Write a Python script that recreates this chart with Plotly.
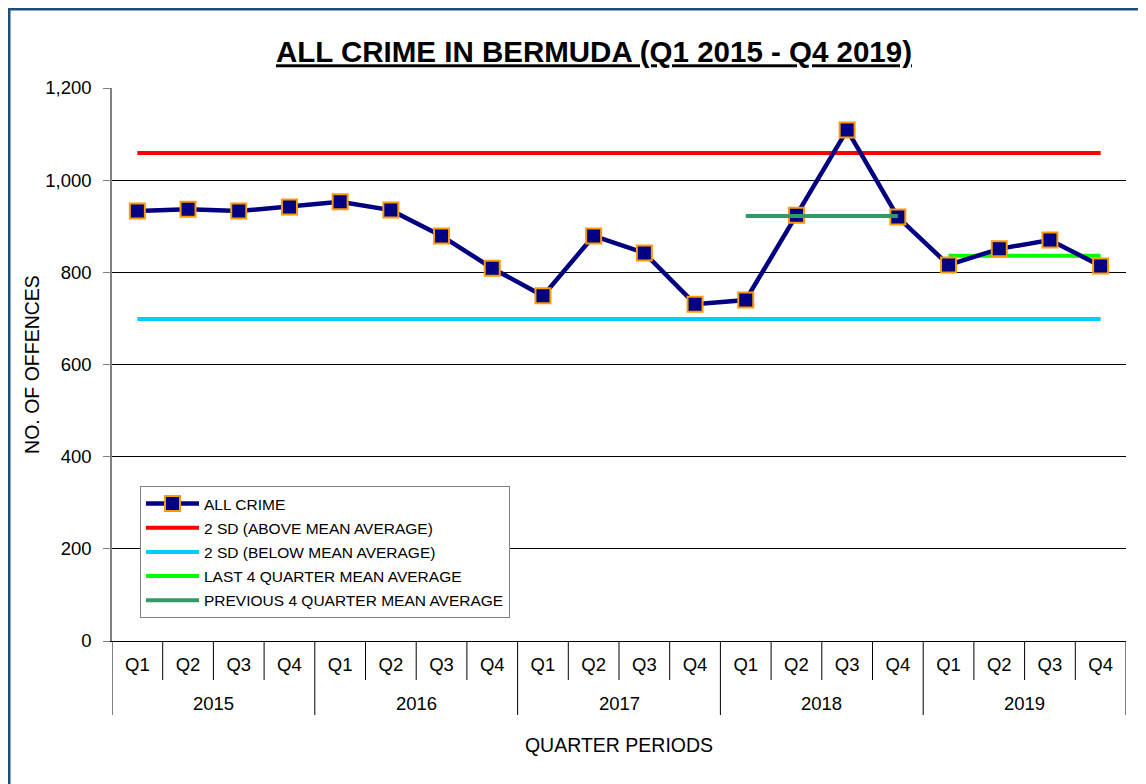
import plotly.graph_objects as go

year_labels = ["2015", "2016", "2017", "2018", "2019"]
quarter_labels = ["Q1", "Q2", "Q3", "Q4"]
quarters = quarter_labels * 5
all_crime = [933, 937, 933, 942, 953, 935, 879, 809, 749, 879, 842, 731,
             740, 924, 1109, 920, 816, 851, 870, 814]
sd_above = 1059
sd_below = 699
last4_mean = 836
prev4_mean = 922
last4_idx = [16, 17, 18, 19]
prev4_idx = [12, 13, 14, 15]
y_ticks = [0, 200, 400, 600, 800, 1000, 1200]

FONT = "Liberation Sans, Arial, sans-serif"
n = len(all_crime)
xi = list(range(n))

fig = go.Figure()
fig.add_trace(go.Scatter(
    x=xi, y=[sd_above] * n, mode="lines",
    line=dict(color="#FF0000", width=4), name="2 SD (ABOVE MEAN AVERAGE)",
    legendgroup="b", legendrank=2))
fig.add_trace(go.Scatter(
    x=xi, y=[sd_below] * n, mode="lines",
    line=dict(color="#00CCFF", width=4), name="2 SD (BELOW MEAN AVERAGE)",
    legendgroup="c", legendrank=3))
fig.add_trace(go.Scatter(
    x=last4_idx, y=[last4_mean] * len(last4_idx), mode="lines",
    line=dict(color="#00FF00", width=4), name="LAST 4 QUARTER MEAN AVERAGE",
    legendgroup="d", legendrank=4))
fig.add_trace(go.Scatter(
    x=xi, y=all_crime, mode="lines+markers",
    line=dict(color="#000080", width=4.5),
    marker=dict(symbol="square", size=15, color="#000080",
                line=dict(color="#FF9900", width=2)),
    name="ALL CRIME", legendgroup="a", legendrank=1))
fig.add_trace(go.Scatter(
    x=prev4_idx, y=[prev4_mean] * len(prev4_idx), mode="lines",
    line=dict(color="#339966", width=4), name="PREVIOUS 4 QUARTER MEAN AVERAGE",
    legendgroup="e", legendrank=5))

ML, MR, MT, MB = 104, 20, 80, 143
W, H = 1138, 776
plot_w = W - ML - MR
plot_h = H - MT - MB
short_sep = -39 / plot_h
long_sep = -74 / plot_h
shapes = []
for k in range(n + 1):
    b = k - 0.5
    is_year = (k % 4 == 0)
    shapes.append(dict(type="line", xref="x", yref="paper", x0=b, x1=b,
                       y0=0, y1=long_sep if is_year else short_sep,
                       line=dict(color="#000000", width=1)))
shapes.append(dict(type="rect", xref="paper", yref="paper",
                   x0=(1 - ML) / plot_w, x1=(W + 10 - ML) / plot_w,
                   y0=-(MB + 10) / plot_h, y1=1 + (MT - 1) / plot_h,
                   line=dict(color="#1F4E79", width=3), layer="below"))

annotations = []
for j, yl in enumerate(year_labels):
    annotations.append(dict(x=4 * j + 1.5, xref="x", y=-62 / plot_h, yref="paper",
                            text=yl, showarrow=False, yanchor="middle",
                            font=dict(family=FONT, size=18.5, color="#000000")))

fig.update_layout(
    width=W, height=H,
    margin=dict(l=ML, r=MR, t=MT, b=MB, autoexpand=False),
    paper_bgcolor="white", plot_bgcolor="white",
    font=dict(family=FONT, size=18.5, color="#000000"),
    title=dict(text="<b><u>ALL CRIME IN BERMUDA (Q1 2015 - Q4 2019)</u></b>",
               x=(594 - 8) / W, xanchor="center", y=1 - (52 - 8) / H,
               yanchor="middle",
               font=dict(family=FONT, size=29.5, color="#000000")),
    showlegend=True,
    legend=dict(x=28 / plot_w, y=(641 - 486) / 553, xanchor="left", yanchor="top",
                bgcolor="white", bordercolor="#808080", borderwidth=1,
                font=dict(family=FONT, size=15.5, color="#000000"),
                traceorder="grouped", tracegroupgap=1, itemwidth=53),
    shapes=shapes,
    annotations=annotations,
)

fig.update_xaxes(
    range=[-0.5, n - 0.5], tickvals=xi, ticktext=quarters,
    showline=True, linecolor="#000000", linewidth=1,
    ticks="", ticklabelstandoff=7,
    showgrid=False, zeroline=False, automargin=False,
    tickfont=dict(family=FONT, size=18.5, color="#000000"),
    title=dict(text="QUARTER PERIODS", font=dict(family=FONT, size=19.5),
               standoff=64),
)
fig.update_yaxes(
    range=[0, 1200], tickvals=y_ticks, tickformat=",",
    showline=True, linecolor="#808080", linewidth=1.5,
    ticks="outside", ticklen=7, tickcolor="#808080",
    ticklabelstandoff=8,
    showgrid=True, gridcolor="#000000", gridwidth=1,
    zeroline=False, automargin=False,
    tickfont=dict(family=FONT, size=18.5, color="#000000"),
    title=dict(text="NO. OF OFFENCES", font=dict(family=FONT, size=19.5),
               standoff=0),
)

fig.write_html("out.html")
